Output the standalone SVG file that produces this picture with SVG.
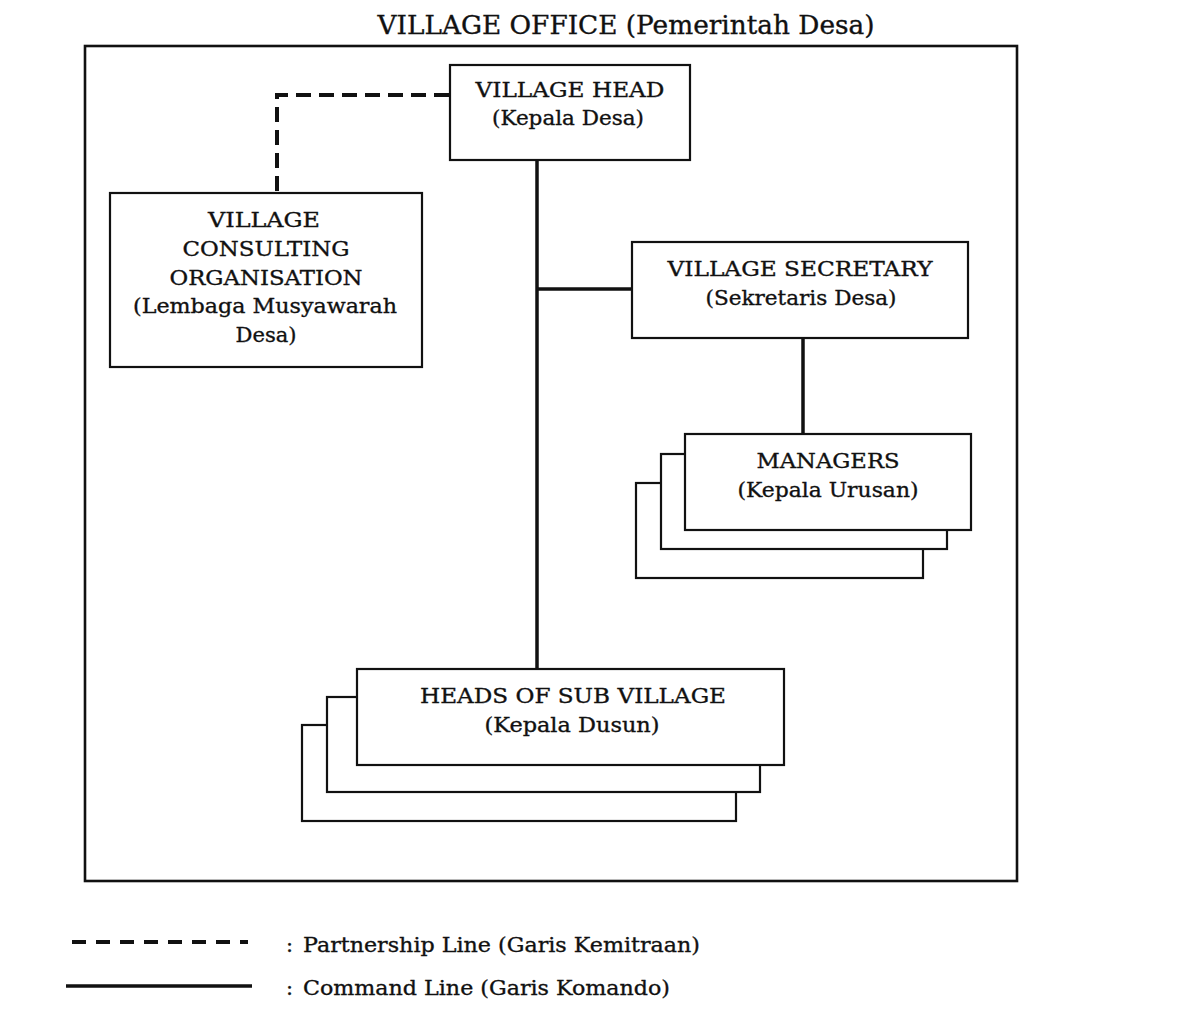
<svg xmlns="http://www.w3.org/2000/svg" width="1202" height="1009" viewBox="0 0 1202 1009">
<style>
text{font-family:"DejaVu Serif","Liberation Serif",serif;fill:#111;stroke:#111;stroke-width:0.35;text-anchor:middle}
.t{font-size:21px}
.title{font-size:26px}
.lg{font-size:21px;text-anchor:start}
.box{fill:#fff;stroke:#111;stroke-width:2.2}
.cmd{fill:none;stroke:#111;stroke-width:3.5}
.part{fill:none;stroke:#111;stroke-width:4;stroke-dasharray:15 8}
</style>
<rect width="1202" height="1009" fill="#fff"/>
<text class="title" x="626" y="34" textLength="497" lengthAdjust="spacingAndGlyphs">VILLAGE OFFICE (Pemerintah Desa)</text>
<rect x="85" y="46" width="932" height="835" fill="none" stroke="#111" stroke-width="2.6"/>
<g id="connectors">
<path class="part" d="M449,95 H277 V193"/>
<path class="cmd" d="M537,160 V669"/>
<path class="cmd" d="M537,289 H632"/>
<path class="cmd" d="M803,338 V434"/>
</g>
<g id="village-head">
<rect class="box" x="450" y="65" width="240" height="95"/>
<text class="t" x="570" y="97" textLength="189" lengthAdjust="spacingAndGlyphs">VILLAGE HEAD</text>
<text class="t" x="568" y="125" textLength="152" lengthAdjust="spacingAndGlyphs">(Kepala Desa)</text>
</g>
<g id="consulting">
<rect class="box" x="110" y="193" width="312" height="174"/>
<text class="t" x="264" y="227" textLength="112" lengthAdjust="spacingAndGlyphs">VILLAGE</text>
<text class="t" x="266" y="256" textLength="167" lengthAdjust="spacingAndGlyphs">CONSULTING</text>
<text class="t" x="266" y="285" textLength="193" lengthAdjust="spacingAndGlyphs">ORGANISATION</text>
<text class="t" x="265" y="313" textLength="264" lengthAdjust="spacingAndGlyphs">(Lembaga Musyawarah</text>
<text class="t" x="266" y="342" textLength="61" lengthAdjust="spacingAndGlyphs">Desa)</text>
</g>
<g id="secretary">
<rect class="box" x="632" y="242" width="336" height="96"/>
<text class="t" x="800" y="276" textLength="265" lengthAdjust="spacingAndGlyphs">VILLAGE SECRETARY</text>
<text class="t" x="801" y="305" textLength="191" lengthAdjust="spacingAndGlyphs">(Sekretaris Desa)</text>
</g>
<g id="managers">
<rect class="box" x="636" y="483" width="287" height="95"/>
<rect class="box" x="661" y="454" width="286" height="95"/>
<rect class="box" x="685" y="434" width="286" height="96"/>
<text class="t" x="828" y="468" textLength="143" lengthAdjust="spacingAndGlyphs">MANAGERS</text>
<text class="t" x="828" y="497" textLength="181" lengthAdjust="spacingAndGlyphs">(Kepala Urusan)</text>
</g>
<g id="sub-village">
<rect class="box" x="302" y="725" width="434" height="96"/>
<rect class="box" x="327" y="697" width="433" height="95"/>
<rect class="box" x="357" y="669" width="427" height="96"/>
<text class="t" x="573" y="703" textLength="306" lengthAdjust="spacingAndGlyphs">HEADS OF SUB VILLAGE</text>
<text class="t" x="572" y="732" textLength="175" lengthAdjust="spacingAndGlyphs">(Kepala Dusun)</text>
</g>
<g id="legend">
<path d="M72,942 H248" fill="none" stroke="#111" stroke-width="4" stroke-dasharray="14 10"/>
<path d="M66,986 H252" fill="none" stroke="#111" stroke-width="3.5"/>
<text class="lg" x="286" y="952">:</text>
<text class="lg" x="303" y="952" textLength="397" lengthAdjust="spacingAndGlyphs">Partnership Line (Garis Kemitraan)</text>
<text class="lg" x="286" y="995">:</text>
<text class="lg" x="303" y="995" textLength="367" lengthAdjust="spacingAndGlyphs">Command Line (Garis Komando)</text>
</g>
</svg>
